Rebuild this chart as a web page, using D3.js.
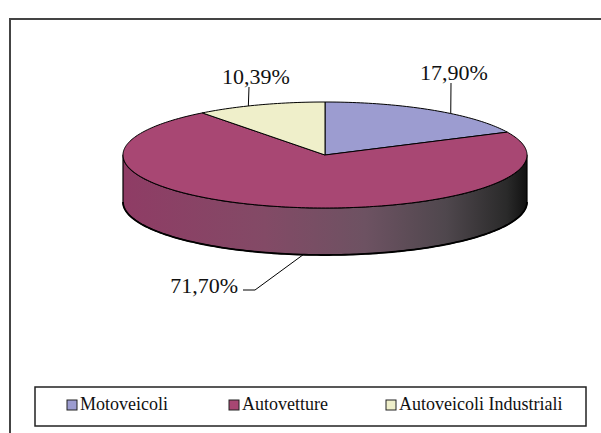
<!DOCTYPE html>
<html>
<head>
<meta charset="utf-8">
<script src="https://cdn.jsdelivr.net/npm/d3@7"></script>
<style>
  html, body { margin: 0; padding: 0; background: #fff; overflow: hidden; }
  svg { display: block; font-family: "Liberation Serif", serif; }
</style>
</head>
<body>
<svg id="chart" width="601" height="433"></svg>
<script>
// data
const categories = ["Motoveicoli", "Autovetture", "Autoveicoli Industriali"];
const values = [17.90, 71.70, 10.39];
const valueLabels = ["17,90%", "71,70%", "10,39%"];
const colors = ["#9c9cd0", "#a84773", "#efefca"];

// layout of the 3d pie
const CX = 325, CY = 155, RX = 202, RY = 53, DEPTH = 47;
// where the leader lines touch the rim (deg, clockwise from top) and where the text sits
const LABEL_LAYOUT = [
  { angle: 38.5, tx: 454, ty: 80, lx: 451, ly: 83, side: false },
  { angle: 186.2, tx: 238, ty: 293, lx: 243, ly: 290, side: true },
  { angle: 337.7, tx: 256, ty: 84, lx: 249, ly: 87, side: false }
];
const SERIF = "Liberation Serif, DejaVu Serif, serif";

const svg = d3.select("#chart");
const color = d3.scaleOrdinal().domain(categories).range(colors);

// outer frame (runs off the page at right and bottom)
svg.append("path")
  .attr("d", "M10,480V19H700")
  .attr("fill", "none")
  .attr("stroke", "#444")
  .attr("stroke-width", 2);

const defs = svg.append("defs");
const grad = defs.append("linearGradient")
  .attr("id", "sideGrad")
  .attr("gradientUnits", "userSpaceOnUse")
  .attr("x1", CX - RX).attr("x2", CX + RX)
  .attr("y1", 0).attr("y2", 0);
[[0, "#8f3c65"], [0.35, "#834a66"], [0.6, "#6d5262"], [0.8, "#4f474d"], [0.95, "#2a2a2a"], [1, "#111"]]
  .forEach(s => grad.append("stop").attr("offset", s[0]).attr("stop-color", s[1]));

const pie = d3.pie().sort(null).startAngle(0).endAngle(2 * Math.PI);
const arcs = pie(values);

function rim(a, dy = 0) {
  return [CX + RX * Math.sin(a), CY - RY * Math.cos(a) + dy];
}
function samples(a0, a1) {
  const n = Math.max(2, Math.ceil(Math.abs(a1 - a0) / 0.02));
  return d3.range(n + 1).map(i => a0 + (a1 - a0) * i / n);
}
const line = d3.line();

// side walls (front half only: angles PI/2 .. 3PI/2)
const g = svg.append("g");
arcs.forEach((d, i) => {
  const a0 = Math.max(d.startAngle, Math.PI / 2);
  const a1 = Math.min(d.endAngle, 3 * Math.PI / 2);
  if (a1 <= a0) return;
  const top = samples(a0, a1).map(a => rim(a));
  const bottom = samples(a1, a0).map(a => rim(a, DEPTH));
  g.append("path")
    .attr("d", line(top.concat(bottom)) + "Z")
    .attr("fill", i === 1 ? "url(#sideGrad)" : d3.color(color(categories[i])).darker(0.8))
    .attr("stroke", "#000")
    .attr("stroke-width", 1.2)
    .attr("stroke-linejoin", "round");
});
// heavier bottom edge
g.append("path")
  .attr("d", line(samples(Math.PI / 2, 3 * Math.PI / 2).map(a => rim(a, DEPTH))))
  .attr("fill", "none")
  .attr("stroke", "#000")
  .attr("stroke-width", 1.8);

// top faces
arcs.forEach((d, i) => {
  const pts = [[CX, CY]].concat(samples(d.startAngle, d.endAngle).map(a => rim(a)));
  g.append("path")
    .attr("d", line(pts) + "Z")
    .attr("fill", color(categories[i]))
    .attr("stroke", "#000")
    .attr("stroke-width", 1)
    .attr("stroke-linejoin", "round");
});

// labels with leader lines
arcs.forEach((d, i) => {
  const L = LABEL_LAYOUT[i];
  const p = rim(L.angle * Math.PI / 180, L.side ? DEPTH : 0);
  let pts;
  if (L.side) pts = [p, [L.lx + 12, L.ly], [L.lx, L.ly]];
  else pts = [p, [L.lx, L.ly]];
  svg.append("path")
    .attr("d", line(pts))
    .attr("fill", "none")
    .attr("stroke", "#000")
    .attr("stroke-width", 1);
  svg.append("text")
    .attr("x", L.tx).attr("y", L.ty)
    .attr("text-anchor", L.side ? "end" : "middle")
    .style("font-family", SERIF)
    .style("font-size", "22px")
    .attr("fill", "#111")
    .text(valueLabels[i]);
});

// legend
const legend = svg.append("g");
legend.append("rect")
  .attr("x", 35).attr("y", 387)
  .attr("width", 551).attr("height", 39)
  .attr("fill", "#fff")
  .attr("stroke", "#222")
  .attr("stroke-width", 1.5);
const legendX = [67, 229, 386];
categories.forEach((c, i) => {
  legend.append("rect")
    .attr("x", legendX[i]).attr("y", 400)
    .attr("width", 10).attr("height", 10)
    .attr("fill", color(c))
    .attr("stroke", "#222")
    .attr("stroke-width", 1);
  legend.append("text")
    .attr("x", legendX[i] + 13).attr("y", 410)
    .style("font-family", SERIF)
    .style("font-size", "18px")
    .attr("fill", "#111")
    .text(c);
});
</script>
</body>
</html>
